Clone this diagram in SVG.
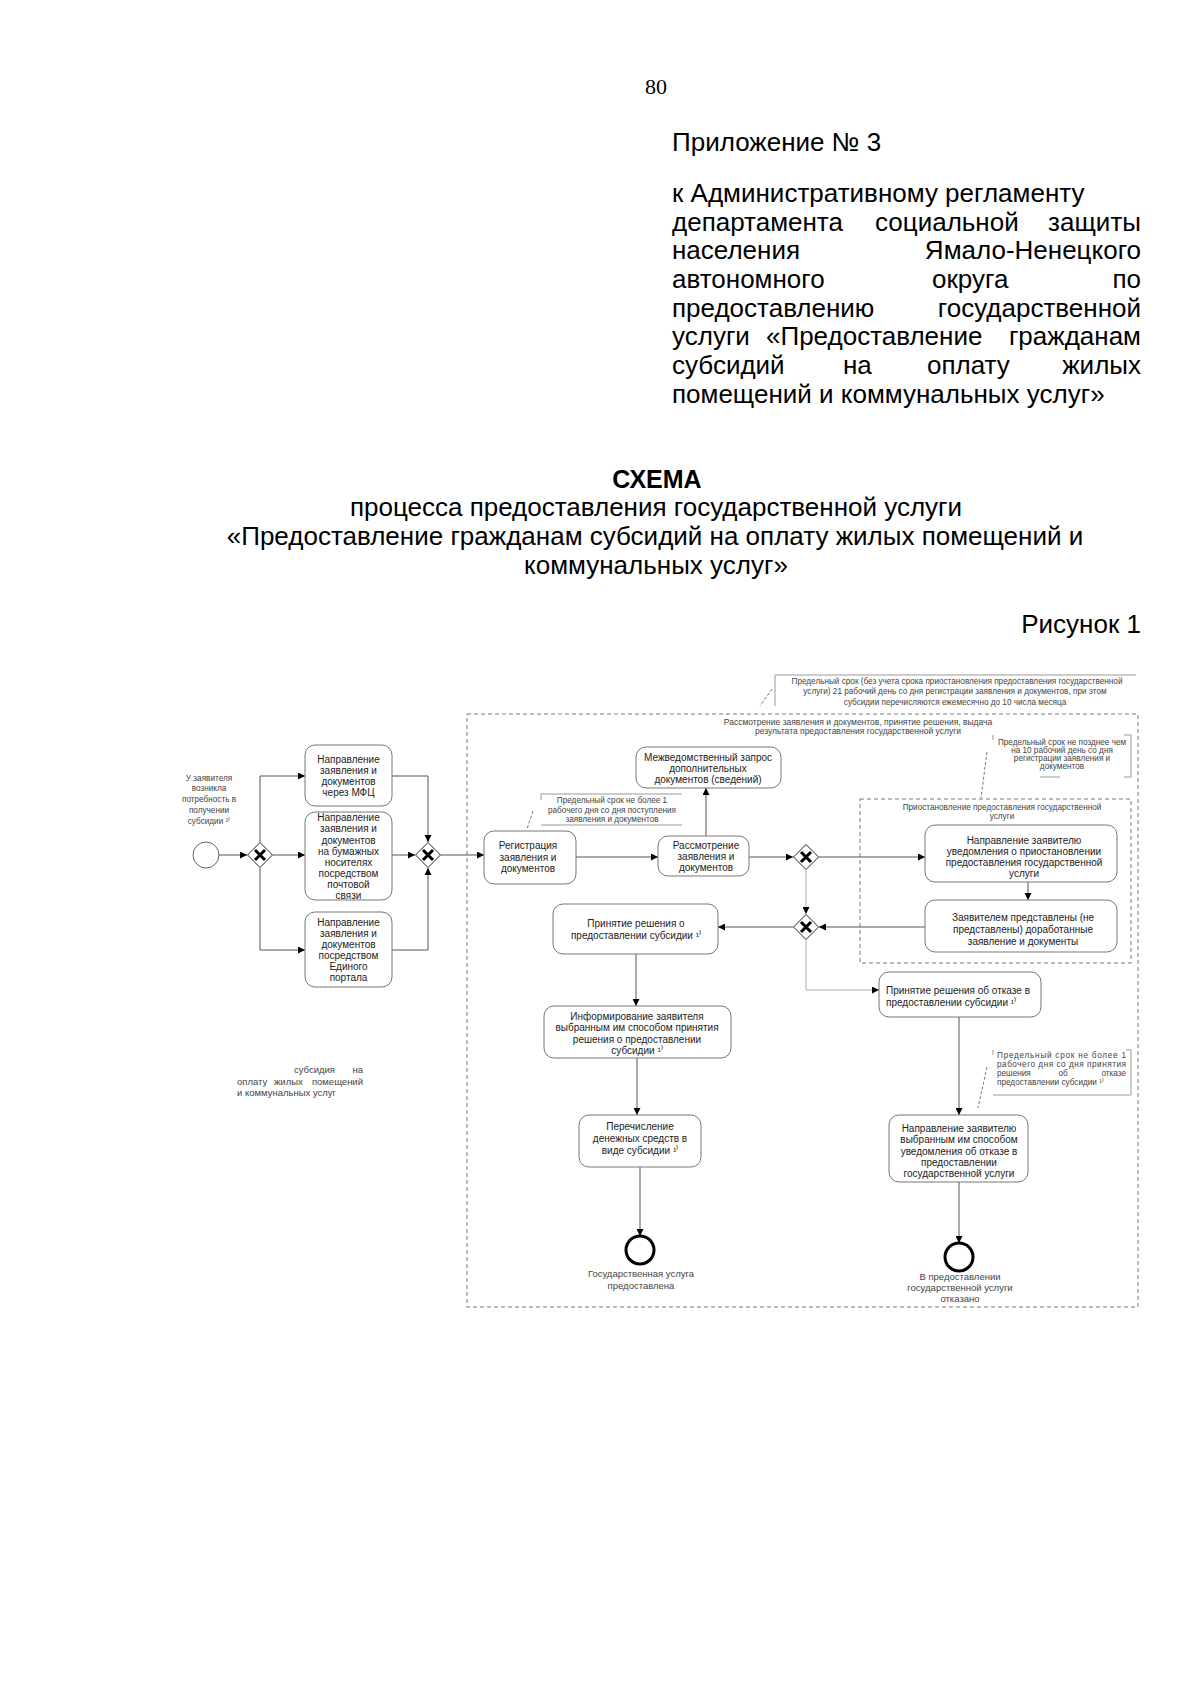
<svg xmlns="http://www.w3.org/2000/svg" width="1200" height="1697" viewBox="0 0 1200 1697">
<style>
.doc{font-family:"Liberation Sans",Arial,sans-serif;font-size:26px;fill:#000}
.ser{font-family:"Liberation Serif","Times New Roman",serif;font-size:22px;fill:#000}
.t{font-family:"Liberation Sans",Arial,sans-serif;font-size:10px;fill:#222;text-anchor:middle}
.s{font-family:"Liberation Sans",Arial,sans-serif;font-size:8.2px;fill:#444;text-anchor:middle}
.m{font-size:9.5px}
.p{font-size:8.5px}
.l{text-anchor:start}
.r{text-anchor:end}
.box{fill:#fff;stroke:#777;stroke-width:1}
.gw{fill:#fff;stroke:#222;stroke-width:1}
.x{stroke:#000;stroke-width:3;stroke-linecap:butt}
.c{fill:none;stroke:#555;stroke-width:1;marker-end:url(#a)}
.cl{stroke:#aaa}
.pool{fill:none;stroke:#777;stroke-width:1;stroke-dasharray:4 3}
.ann{fill:none;stroke:#999;stroke-width:1}
.assoc{fill:none;stroke:#777;stroke-width:1;stroke-dasharray:3 2}
.start{fill:#fff;stroke:#666;stroke-width:1}
.end{fill:#fff;stroke:#000;stroke-width:3}
</style>
<defs>
<marker id="a" viewBox="0 0 8 8" refX="8" refY="4" markerWidth="7" markerHeight="7" markerUnits="userSpaceOnUse" orient="auto"><path d="M0,0 L8,4 L0,8 z" fill="#000"/></marker>
</defs>

<!-- document header -->
<g id="header">
<text class="ser" x="656" y="94" text-anchor="middle">80</text>
<text class="doc" x="672" y="151">Приложение № 3</text>
<text class="doc" x="672" y="202">к Административному регламенту</text>
<text class="doc" x="672" y="231">департамента</text>
<text class="doc" x="875" y="231">социальной</text>
<text class="doc" x="1141" y="231" text-anchor="end">защиты</text>
<text class="doc" x="672" y="259">населения</text>
<text class="doc" x="1141" y="259" text-anchor="end">Ямало-Ненецкого</text>
<text class="doc" x="672" y="288">автономного</text>
<text class="doc" x="932" y="288">округа</text>
<text class="doc" x="1141" y="288" text-anchor="end">по</text>
<text class="doc" x="672" y="317">предоставлению</text>
<text class="doc" x="1141" y="317" text-anchor="end">государственной</text>
<text class="doc" x="672" y="345">услуги</text>
<text class="doc" x="766" y="345">«Предоставление</text>
<text class="doc" x="1141" y="345" text-anchor="end">гражданам</text>
<text class="doc" x="672" y="374">субсидий</text>
<text class="doc" x="843" y="374">на</text>
<text class="doc" x="927" y="374">оплату</text>
<text class="doc" x="1141" y="374" text-anchor="end">жилых</text>
<text class="doc" x="672" y="403">помещений и коммунальных услуг»</text>
</g>
<g id="title">
<text class="doc" x="657" y="488" text-anchor="middle" style="font-weight:bold;font-size:25px">СХЕМА</text>
<text class="doc" x="656" y="516" text-anchor="middle">процесса предоставления государственной услуги</text>
<text class="doc" x="655" y="545" text-anchor="middle">«Предоставление гражданам субсидий на оплату жилых помещений и</text>
<text class="doc" x="656" y="574" text-anchor="middle">коммунальных услуг»</text>
<text class="doc" x="1141" y="633" text-anchor="end">Рисунок 1</text>
</g>

<!-- pools -->
<g id="pool-main">
<rect class="pool" x="467" y="714" width="671" height="593"/>
<text class="s p" x="858" y="725">Рассмотрение заявления и документов, принятие решения, выдача</text>
<text class="s p" x="858" y="734">результата предоставления государственной услуги</text>
</g>
<g id="pool-suspend">
<rect class="pool" x="860" y="799" width="271" height="164"/>
<text class="s" x="1002" y="810">Приостановление предоставления государственной</text>
<text class="s" x="1002" y="819">услуги</text>
</g>

<!-- annotations -->
<g id="note-top">
<path class="ann" d="M1136 675 H775 V706"/>
<text class="s" x="957" y="684">Предельный срок (без учета срока приостановления предоставления государственной</text>
<text class="s" x="955" y="694">услуги) 21 рабочий день со дня регистрации заявления и документов, при этом</text>
<text class="s" x="955" y="705">субсидии перечисляются ежемесячно до 10 числа месяца</text>
</g>
<g id="note-reg">
<path class="ann" d="M541 794 H682 M541 825 H682 M541 794 V800"/>
<text class="s" x="612" y="803">Предельный срок не более 1</text>
<text class="s" x="612" y="813">рабочего дня со дня поступления</text>
<text class="s" x="612" y="822">заявления и документов</text>
</g>
<g id="note-right">
<path class="ann" d="M1124 735 H1131 V777 H1124 M993 735 V740 M1040 777 H1060"/>
<text class="s" x="1062" y="745">Предельный срок не позднее чем</text>
<text class="s" x="1062" y="753">на 10 рабочий день со дня</text>
<text class="s" x="1062" y="761">регистрации заявления и</text>
<text class="s" x="1062" y="769">документов</text>
</g>
<g id="note-refusal">
<path class="ann" d="M1126 1050 H1131 V1095 H993 M993 1050 V1055"/>
<text class="s l" x="997" y="1058" textLength="129" lengthAdjust="spacing">Предельный срок не более 1</text>
<text class="s l" x="997" y="1067" textLength="129" lengthAdjust="spacing">рабочего дня со дня принятия</text>
<text class="s l" x="997" y="1076">решения</text>
<text class="s" x="1063" y="1076">об</text>
<text class="s r" x="1126" y="1076">отказе</text>
<text class="s l" x="997" y="1085">предоставлении субсидии ¹⁾</text>
</g>

<!-- free labels -->
<g id="label-need">
<text class="s" x="209" y="781">У заявителя</text>
<text class="s" x="209" y="791">возникла</text>
<text class="s" x="209" y="802">потребность в</text>
<text class="s" x="209" y="813">получении</text>
<text class="s" x="209" y="824">субсидии ¹⁾</text>
</g>
<g id="label-subsidy">
<text class="s m l" x="294" y="1073">субсидия</text>
<text class="s m r" x="363" y="1073">на</text>
<text class="s m l" x="237" y="1085">оплату</text>
<text class="s m l" x="274" y="1085">жилых</text>
<text class="s m r" x="363" y="1085">помещений</text>
<text class="s m l" x="237" y="1096">и коммунальных услуг</text>
</g>

<!-- connectors -->
<g id="connectors">
<path class="c" d="M219 855 H247"/>
<path class="c" d="M260 842 V776 H305"/>
<path class="c" d="M273 855 H305"/>
<path class="c" d="M260 868 V950 H305"/>
<path class="c" d="M392 776 H428 V842"/>
<path class="c" d="M392 855 H415"/>
<path class="c" d="M392 950 H428 V868"/>
<path class="c" d="M441 855 H484"/>
<path class="c" d="M576 857 H658"/>
<path class="c" d="M706 836 V788" style="marker-start:url(#a)"/>
<path class="c" d="M749 857 H793"/>
<path class="c" d="M819 857 H925"/>
<path class="c" d="M1028 882 V900"/>
<path class="c" d="M925 927 H819"/>
<path class="c cl" d="M806 870 V914"/>
<path class="c" d="M793 927 H718"/>
<path class="c cl" d="M806 940 V990 H879"/>
<path class="c" d="M636 954 V1006"/>
<path class="c" d="M637 1058 V1115"/>
<path class="c" d="M640 1167 V1236"/>
<path class="c" d="M959 1017 V1115"/>
<path class="c" d="M959 1182 V1243"/>
<path class="assoc" d="M772 689 L760 706"/>
<path class="assoc" d="M533 811 L527 829"/>
<path class="assoc" d="M987 752 L981 798"/>
<path class="assoc" d="M987 1067 L978 1108"/>
</g>

<!-- events -->
<g id="start"><circle class="start" cx="206" cy="855" r="13"/></g>
<g id="end-ok"><circle class="end" cx="640" cy="1250" r="14"/>
<text class="s m" x="641" y="1277">Государственная услуга</text>
<text class="s m" x="641" y="1289">предоставлена</text></g>
<g id="end-refused"><circle class="end" cx="959" cy="1257" r="14"/>
<text class="s m" x="960" y="1280">В предоставлении</text>
<text class="s m" x="960" y="1291">государственной услуги</text>
<text class="s m" x="960" y="1302">отказано</text></g>

<!-- gateways -->
<g id="gw1"><path class="gw" d="M260 842.5 L272.5 855 L260 867.5 L247.5 855 Z"/><path class="x" d="M255 850 L265 860 M265 850 L255 860"/></g>
<g id="gw2"><path class="gw" d="M428 842.5 L440.5 855 L428 867.5 L415.5 855 Z"/><path class="x" d="M423 850 L433 860 M433 850 L423 860"/></g>
<g id="gw3"><path class="gw" d="M806 844.5 L818.5 857 L806 869.5 L793.5 857 Z"/><path class="x" d="M801 852 L811 862 M811 852 L801 862"/></g>
<g id="gw4"><path class="gw" d="M806 914.5 L818.5 927 L806 939.5 L793.5 927 Z"/><path class="x" d="M801 922 L811 932 M811 922 L801 932"/></g>

<!-- tasks -->
<g id="task-mfc"><rect class="box" x="305" y="745" width="87" height="61" rx="10"/>
<text class="t"><tspan x="348.5" y="763">Направление</tspan><tspan x="348.5" y="774">заявления и</tspan><tspan x="348.5" y="785">документов</tspan><tspan x="348.5" y="796">через МФЦ</tspan></text></g>
<g id="task-post"><rect class="box" x="305" y="812" width="87" height="88" rx="10"/>
<text class="t"><tspan x="348.5" y="821">Направление</tspan><tspan x="348.5" y="832">заявления и</tspan><tspan x="348.5" y="843.5">документов</tspan><tspan x="348.5" y="855">на бумажных</tspan><tspan x="348.5" y="866">носителях</tspan><tspan x="348.5" y="877">посредством</tspan><tspan x="348.5" y="888">почтовой</tspan><tspan x="348.5" y="899">связи</tspan></text></g>
<g id="task-portal"><rect class="box" x="305" y="912" width="87" height="75" rx="10"/>
<text class="t"><tspan x="348.5" y="926">Направление</tspan><tspan x="348.5" y="937">заявления и</tspan><tspan x="348.5" y="948">документов</tspan><tspan x="348.5" y="959">посредством</tspan><tspan x="348.5" y="970">Единого</tspan><tspan x="348.5" y="981">портала</tspan></text></g>
<g id="task-reg"><rect class="box" x="484" y="831" width="92" height="53" rx="10"/>
<text class="t"><tspan x="528" y="849">Регистрация</tspan><tspan x="528" y="861">заявления и</tspan><tspan x="528" y="872">документов</tspan></text></g>
<g id="task-review"><rect class="box" x="658" y="836" width="91" height="40" rx="10"/>
<text class="t"><tspan x="706" y="849">Рассмотрение</tspan><tspan x="706" y="860">заявления и</tspan><tspan x="706" y="871">документов</tspan></text></g>
<g id="task-interagency"><rect class="box" x="636" y="747" width="145" height="41" rx="10"/>
<text class="t"><tspan x="708" y="761">Межведомственный запрос</tspan><tspan x="708" y="772">дополнительных</tspan><tspan x="708" y="783">документов (сведений)</tspan></text></g>
<g id="task-suspend-notice"><rect class="box" x="925" y="825" width="192" height="57" rx="10"/>
<text class="t"><tspan x="1024" y="844">Направление заявителю</tspan><tspan x="1024" y="855">уведомления о приостановлении</tspan><tspan x="1024" y="866">предоставления государственной</tspan><tspan x="1024" y="877">услуги</tspan></text></g>
<g id="task-resubmit"><rect class="box" x="925" y="900" width="192" height="52" rx="10"/>
<text class="t"><tspan x="1023" y="921">Заявителем представлены (не</tspan><tspan x="1023" y="933">представлены) доработанные</tspan><tspan x="1023" y="945">заявление и документы</tspan></text></g>
<g id="task-grant"><rect class="box" x="553" y="904" width="165" height="50" rx="10"/>
<text class="t"><tspan x="636" y="927">Принятие решения о</tspan><tspan x="636" y="939">предоставлении субсидии ¹⁾</tspan></text></g>
<g id="task-refuse"><rect class="box" x="879" y="972" width="162" height="45" rx="10"/>
<text class="t l"><tspan x="886" y="994">Принятие решения об отказе в</tspan><tspan x="886" y="1006">предоставлении субсидии ¹⁾</tspan></text></g>
<g id="task-inform"><rect class="box" x="544" y="1006" width="187" height="52" rx="10"/>
<text class="t"><tspan x="637" y="1020">Информирование заявителя</tspan><tspan x="637" y="1031">выбранным им способом принятия</tspan><tspan x="637" y="1043">решения о предоставлении</tspan><tspan x="637" y="1054">субсидии ¹⁾</tspan></text></g>
<g id="task-transfer"><rect class="box" x="579" y="1115" width="122" height="52" rx="10"/>
<text class="t"><tspan x="640" y="1130">Перечисление</tspan><tspan x="640" y="1142">денежных средств в</tspan><tspan x="640" y="1154">виде субсидии ¹⁾</tspan></text></g>
<g id="task-refuse-notice"><rect class="box" x="889" y="1115" width="139" height="67" rx="10"/>
<text class="t"><tspan x="959" y="1132">Направление заявителю</tspan><tspan x="959" y="1143">выбранным им способом</tspan><tspan x="959" y="1155">уведомления об отказе в</tspan><tspan x="959" y="1166">предоставлении</tspan><tspan x="959" y="1177">государственной услуги</tspan></text></g>
</svg>
